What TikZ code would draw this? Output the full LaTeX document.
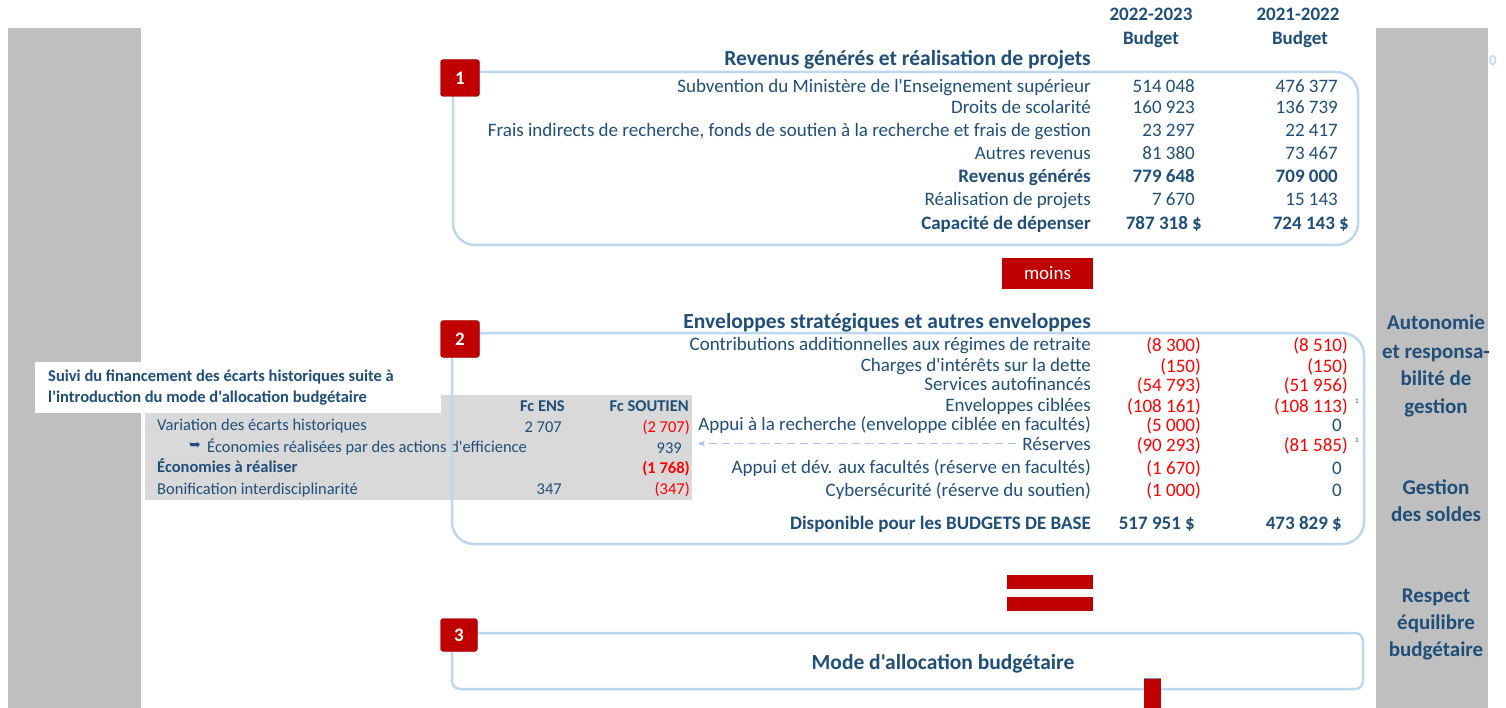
\documentclass[tikz,border=0pt]{standalone}
\usepackage{fontspec}
\setmainfont{Carlito}[Ligatures=TeXOff]
\newfontfamily\dejavu{DejaVu Sans}
\usetikzlibrary{arrows.meta}
\definecolor{dblue}{RGB}{31,78,121}
\definecolor{lblue}{RGB}{189,215,238}
\definecolor{bred}{RGB}{192,0,0}
\definecolor{nred}{RGB}{255,0,0}
\definecolor{band}{RGB}{191,191,191}
\definecolor{tgray}{RGB}{217,217,217}
\newcommand{\fsmain}{\fontsize{19}{22}\selectfont}
\newcommand{\fstitle}{\fontsize{21.5}{24}\selectfont\bfseries}
\newcommand{\fsside}{\fontsize{21}{24}\selectfont\bfseries}
\newcommand{\fstab}{\fontsize{16.5}{19}\selectfont}
\tikzset{
  lbl/.style={anchor=base east, inner sep=0pt, text=dblue, font=\fsmain},
  lblb/.style={lbl, font=\fsmain\bfseries},
  neg/.style={anchor=base east, inner sep=0pt, text=nred, font=\fsmain},
  ttl/.style={anchor=base east, inner sep=0pt, text=dblue, font=\fstitle},
  hdr/.style={anchor=base, inner sep=0pt, text=dblue, font=\fsmain\bfseries},
  side/.style={anchor=base, inner sep=0pt, text=dblue, font=\fsside},
  tab/.style={anchor=base west, inner sep=0pt, text=dblue, font=\fstab},
  tabr/.style={anchor=base east, inner sep=0pt, text=dblue, font=\fstab},
  tabneg/.style={anchor=base east, inner sep=0pt, text=nred, font=\fstab},
  frame/.style={draw=lblue, line width=2.5pt, rounded corners=22pt},
  badge/.style={fill=bred, draw=bred!80!black, line width=0.4pt, rounded corners=3pt, minimum width=39pt, minimum height=37pt, inner sep=0pt, text=white, font=\fontsize{19}{22}\selectfont\bfseries},
  redbar/.style={fill=bred, draw=none, inner sep=0pt},
  sup/.style={anchor=base west, inner sep=0pt, text=dblue, font=\fontsize{7}{8}\selectfont}
}
\begin{document}
\begin{tikzpicture}[x=1pt, y=-1pt]
\useasboundingbox (0,0) rectangle (1506,708);
% side bands
\fill[band] (8,28) rectangle (141,708);
\fill[band] (1376,28) rectangle (1488,708);
\node[anchor=base, inner sep=0pt, text=lblue, font=\fontsize{15}{17}\selectfont\bfseries] (zero) at (1493,66) {0};
% header
\node[hdr] (y1) at (1151,21) {2022-2023};
\node[hdr] (b1) at (1151,45) {Budget};
\node[hdr] (y2) at (1298,21) {2021-2022};
\node[hdr] (b2) at (1300,45) {Budget};

% ---------- Box 1
\draw[frame] (453,72) rectangle (1358,245);
\node[badge] (n1) at (460,78) {1};
\node[ttl] (t1) at (1091,66) {Revenus générés et réalisation de projets};
\node[lbl] (r11) at (1091,93) {Subvention du Ministère de l'Enseignement supérieur};
\node[lbl] (r12) at (1091,114) {Droits de scolarité};
\node[lbl] (r13) at (1091,137) {Frais indirects de recherche, fonds de soutien à la recherche et frais de gestion};
\node[lbl] (r14) at (1091,160) {Autres revenus};
\node[lblb] (r15) at (1091,183) {Revenus générés};
\node[lbl] (r16) at (1091,206) {Réalisation de projets};
\node[lblb] (r17) at (1091,230) {Capacité de dépenser};
\node[lbl] (a11) at (1195,93) {514 048};
\node[lbl] (a12) at (1195,114) {160 923};
\node[lbl] (a13) at (1195,137) {23 297};
\node[lbl] (a14) at (1195,160) {81 380};
\node[lblb] (a15) at (1195,183) {779 648};
\node[lbl] (a16) at (1195,206) {7 670};
\node[lblb] (a17) at (1202,230) {787 318 \$};
\node[lbl] (b11) at (1338,93) {476 377};
\node[lbl] (b12) at (1338,114) {136 739};
\node[lbl] (b13) at (1338,137) {22 417};
\node[lbl] (b14) at (1338,160) {73 467};
\node[lblb] (b15) at (1338,183) {709 000};
\node[lbl] (b16) at (1338,206) {15 143};
\node[lblb] (b17) at (1349,230) {724 143 \$};

% moins
\node[redbar, minimum width=91pt, minimum height=31pt, text=white, font=\fsmain] (moins) at (1047.5,273.5) {moins};

% ---------- left table
\fill[tgray] (145,395) rectangle (692,500);
\fill[white] (35,362) rectangle (441,413);
\node[anchor=base west, inner sep=0pt, text=dblue, font=\fstab\bfseries] (st1) at (48,381) {Suivi du financement des écarts historiques suite à};
\node[anchor=base west, inner sep=0pt, text=dblue, font=\fstab\bfseries] (st2) at (48,402) {l'introduction du mode d'allocation budgétaire};
\node[tabr, font=\fstab\bfseries] (fce) at (565,411) {Fc ENS};
\node[tabr, font=\fstab\bfseries] (fcs) at (689,411) {Fc SOUTIEN};
\node[tab] (v1) at (157,430) {Variation des écarts historiques};
\node[tabr] (v1a) at (562,432) {2 707};
\node[tabneg] (v1b) at (690,432) {(2 707)};
\node[tab] (v2) at (207,452) {Économies réalisées par des actions d'efficience};
\node[anchor=base east, inner sep=0pt, text=dblue, font=\dejavu\fontsize{14}{16}\selectfont] (arr) at (201,449) {➥};
\node[tabr] (v2b) at (682,453) {939};
\node[tab, font=\fstab\bfseries] (v3) at (157,472) {Économies à réaliser};
\node[tabneg, font=\fstab\bfseries] (v3b) at (690,473) {(1 768)};
\node[tab] (v4) at (157,494) {Bonification interdisciplinarité};
\node[tabr] (v4a) at (562,494) {347};
\node[tabneg] (v4b) at (690,494) {(347)};

% ---------- Box 2
\draw[frame] (452,333) rectangle (1364,544);
\node[badge] (n2) at (460,339) {2};
\node[ttl] (t2) at (1091,329) {Enveloppes stratégiques et autres enveloppes};
\node[lbl] (r21) at (1091,350) {Contributions additionnelles aux régimes de retraite};
\node[lbl] (r22) at (1091,371) {Charges d'intérêts sur la dette};
\node[lbl] (r23) at (1091,390) {Services autofinancés};
\node[lbl] (r24) at (1091,411) {Enveloppes ciblées};
\node[lbl] (r25) at (1091,430) {Appui à la recherche (enveloppe ciblée en facultés)};
\node[lbl] (r26) at (1091,450) {Réserves};
\node[lbl] (r27) at (1091,473) {Appui et dév. aux facultés (réserve en facultés)};
\node[lbl] (r28) at (1091,496) {Cybersécurité (réserve du soutien)};
\node[lblb] (r29) at (1091,529) {Disponible pour les BUDGETS DE BASE};
\node[neg] (a21) at (1201,351) {(8 300)};
\node[neg] (a22) at (1201,372) {(150)};
\node[neg] (a23) at (1201,391) {(54 793)};
\node[neg] (a24) at (1201,412) {(108 161)};
\node[neg] (a25) at (1201,431) {(5 000)};
\node[neg] (a26) at (1201,451) {(90 293)};
\node[neg] (a27) at (1201,474) {(1 670)};
\node[neg] (a28) at (1201,496) {(1 000)};
\node[lblb] (a29) at (1195,529) {517 951 \$};
\node[neg] (b21) at (1348,351) {(8 510)};
\node[neg] (b22) at (1348,372) {(150)};
\node[neg] (b23) at (1348,391) {(51 956)};
\node[neg] (b24) at (1348,412) {(108 113)};
\node[lbl] (b25) at (1342,431) {0};
\node[neg] (b26) at (1348,451) {(81 585)};
\node[lbl] (b27) at (1342,474) {0};
\node[lbl] (b28) at (1342,496) {0};
\node[lblb] (b29) at (1342,529) {473 829 \$};
\node[sup] (s1) at (1355,403) {1};
\node[sup] (s2) at (1355,442) {1};
\coordinate (arrstart) at ([xshift=-6pt]r26.west);
\coordinate (arrend) at (698,0);
\draw[lblue!90!blue, line width=1.6pt, dash pattern=on 8pt off 5pt, -{Stealth[length=7pt,width=6pt]}] (arrstart) -- (arrend |- arrstart);

% equals
\node[redbar, minimum width=86pt, minimum height=14pt] (eq1) at (1050,582) {};
\node[redbar, minimum width=86pt, minimum height=14pt] (eq2) at (1050,604) {};

% ---------- Box 3
\draw[frame, rounded corners=8pt] (452,633) rectangle (1363,689);
\node[badge, minimum width=37pt, minimum height=33pt] (n3) at (459,635) {3};
\node[anchor=base, inner sep=0pt, text=dblue, font=\fstitle] (t3) at (943,669) {Mode d'allocation budgétaire};
\fill[bred] (1144,678) rectangle (1161,708);
\draw[dblue!60, line width=1pt] (1144,678.5) -- (1161,678.5);

% side texts
\node[side] (s11) at (1436,330) {Autonomie};
\node[side] (s12) at (1436,358) {et responsa-};
\node[side] (s13) at (1436,385) {bilité de};
\node[side] (s14) at (1436,413) {gestion};
\node[side] (s21) at (1436,494) {Gestion};
\node[side] (s22) at (1436,521) {des soldes};
\node[side] (s31) at (1436,602) {Respect};
\node[side] (s32) at (1436,629) {équilibre};
\node[side] (s33) at (1436,656) {budgétaire};
\end{tikzpicture}
\end{document}
